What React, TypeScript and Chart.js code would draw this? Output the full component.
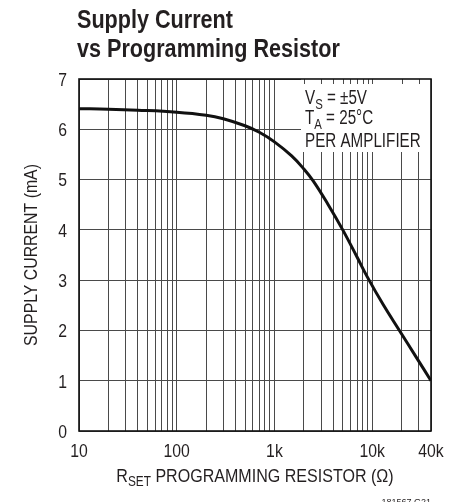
import React, { useEffect, useRef } from 'react';
import { Chart, registerables } from 'chart.js';

Chart.register(...registerables);

// Curve (R in ohms, supply current in mA)
const R_VALUES = [10, 20, 40, 100, 200, 300, 500, 700, 1000, 1500, 2000, 2500, 3500, 5000, 7000, 9000, 13000, 19000, 28000, 40000];
const I_VALUES = [6.41, 6.4, 6.38, 6.34, 6.28, 6.21, 6.07, 5.94, 5.75, 5.47, 5.21, 4.97, 4.52, 4.0, 3.46, 3.05, 2.51, 2.0, 1.48, 1.0];

// Axis ticks
const X_TICKS = [
  10, 20, 30, 40, 50, 60, 70, 80, 90,
  100, 200, 300, 400, 500, 600, 700, 800, 900,
  1000, 2000, 3000, 4000, 5000, 6000, 7000, 8000, 9000,
  10000, 20000, 30000, 40000,
];
const X_LABELED = [10, 100, 1000, 10000, 40000];
const X_LABEL_TEXT = ['10', '100', '1k', '10k', '40k'];
const Y_TICKS = [0, 1, 2, 3, 4, 5, 6, 7];

const TITLE_LINES = ['Supply Current', 'vs Programming Resistor'];
const Y_TITLE = 'SUPPLY CURRENT (mA)';
const NOTE_LINES: [string, string, string][] = [
  ['V', 'S', ' = ±5V'],
  ['T', 'A', ' = 25°C'],
  ['PER AMPLIFIER', '', ''],
];
const X_TITLE: [string, string, string] = ['R', 'SET', ' PROGRAMMING RESISTOR (Ω)'];
const WATERMARK = '181567 G21';

const FONT = '"Liberation Sans", Arial, sans-serif';
const TEXT = '#231f20';
const GRID = '#4a4a4a';

function txt(
  ctx: CanvasRenderingContext2D,
  s: string,
  x: number,
  y: number,
  size: number,
  sx: number,
  align: CanvasTextAlign,
  bold = false
) {
  ctx.save();
  ctx.font = `${bold ? 'bold ' : ''}${size}px ${FONT}`;
  ctx.textAlign = align;
  ctx.textBaseline = 'alphabetic';
  ctx.translate(x, y);
  ctx.scale(sx, 1);
  ctx.fillText(s, 0, 0);
  ctx.restore();
}

function drawSub(
  ctx: CanvasRenderingContext2D,
  parts: [string, string, string],
  x: number,
  y: number,
  size: number,
  subSize: number,
  subDy: number,
  sx: number,
  align: 'left' | 'center'
) {
  ctx.save();
  ctx.font = `${size}px ${FONT}`;
  const w0 = ctx.measureText(parts[0]).width * sx;
  const w2 = ctx.measureText(parts[2]).width * sx;
  ctx.font = `${subSize}px ${FONT}`;
  const w1 = parts[1] ? ctx.measureText(parts[1]).width * sx : 0;
  ctx.restore();
  const total = w0 + w1 + w2;
  let cx = align === 'center' ? x - total / 2 : x;
  txt(ctx, parts[0], cx, y, size, sx, 'left');
  cx += w0;
  if (parts[1]) {
    txt(ctx, parts[1], cx, y + subDy, subSize, sx, 'left');
    cx += w1;
  }
  if (parts[2]) txt(ctx, parts[2], cx, y, size, sx, 'left');
}

export default function App() {
  const ref = useRef<HTMLCanvasElement>(null);

  useEffect(() => {
    document.body.style.margin = '0';
    const canvas = ref.current;
    if (!canvas) return;

    const annot = {
      id: 'annot',
      afterDraw(chart: any) {
        const { ctx, chartArea: a, scales } = chart;
        const xs = scales.x;
        const ys = scales.y;
        ctx.save();

        // note box (white, covering grid)
        const bx = a.left + 222;
        const by = a.top;
        const bw = a.right - bx;
        const bh = 73;
        ctx.fillStyle = '#ffffff';
        ctx.fillRect(bx, by, bw, bh);
        ctx.strokeStyle = GRID;
        ctx.lineWidth = 1;
        X_TICKS.forEach((v) => {
          const px = Math.round(xs.getPixelForValue(v)) + 0.5;
          if (px > bx && px < a.right - 2) {
            ctx.beginPath();
            ctx.moveTo(px, by);
            ctx.lineTo(px, by + 5);
            ctx.stroke();
          }
        });

        // frame
        ctx.strokeStyle = '#111';
        ctx.lineWidth = 1.6;
        ctx.strokeRect(a.left, a.top, a.right - a.left, a.bottom - a.top);

        ctx.fillStyle = TEXT;

        // tick labels (positions from the chart's scales)
        X_LABELED.forEach((v, i) => {
          txt(ctx, X_LABEL_TEXT[i], xs.getPixelForValue(v), a.bottom + 26, 19, 0.83, 'center');
        });
        Y_TICKS.forEach((v) => {
          txt(ctx, String(v), a.left - 12, ys.getPixelForValue(v) + 6.8, 19, 0.83, 'right');
        });

        // note text
        const nx = bx + 4;
        const nys = [104, 124, 147];
        NOTE_LINES.forEach((p, i) => drawSub(ctx, p, nx, nys[i], 20, 15, 5, 0.76, 'left'));

        // title
        txt(ctx, TITLE_LINES[0], 77, 28, 26.5, 0.815, 'left', true);
        txt(ctx, TITLE_LINES[1], 77, 57, 26.5, 0.815, 'left', true);

        // x title
        drawSub(ctx, X_TITLE, (a.left + a.right) / 2, 482, 19, 14, 4, 0.845, 'center');

        // y title
        ctx.save();
        ctx.translate(37, (a.top + a.bottom) / 2);
        ctx.rotate(-Math.PI / 2);
        txt(ctx, Y_TITLE, 0, 0, 18, 0.88, 'center');
        ctx.restore();

        // watermark
        txt(ctx, WATERMARK, 431, 505, 9, 1, 'right');

        ctx.restore();
      },
    };

    const chart = new Chart(canvas, {
      type: 'line',
      data: {
        datasets: [
          {
            data: R_VALUES.map((x, i) => ({ x, y: I_VALUES[i] })),
            borderColor: '#111',
            borderWidth: 3,
            pointRadius: 0,
            tension: 0.4,
            fill: false,
          },
        ],
      },
      options: {
        responsive: false,
        animation: false,
        events: [],
        layout: { padding: { top: 79, right: 25, left: 0, bottom: 0 } },
        plugins: { legend: { display: false }, tooltip: { enabled: false } },
        scales: {
          x: {
            type: 'logarithmic',
            min: 10,
            max: 40000,
            afterBuildTicks: (s: any) => {
              s.ticks = X_TICKS.map((v) => ({ value: v }));
            },
            afterFit: (s: any) => {
              s.height = 71;
            },
            ticks: { display: false, autoSkip: false },
            grid: { color: GRID, lineWidth: 1, drawTicks: false },
            border: { display: false },
          },
          y: {
            type: 'linear',
            min: 0,
            max: 7,
            afterBuildTicks: (s: any) => {
              s.ticks = Y_TICKS.map((v) => ({ value: v }));
            },
            afterFit: (s: any) => {
              s.width = 79;
            },
            ticks: { display: false },
            grid: { color: GRID, lineWidth: 1, drawTicks: false },
            border: { display: false },
          },
        },
      },
      plugins: [annot],
    } as any);

    return () => chart.destroy();
  }, []);

  return <canvas ref={ref} width={456} height={502} style={{ display: 'block' }} />;
}
